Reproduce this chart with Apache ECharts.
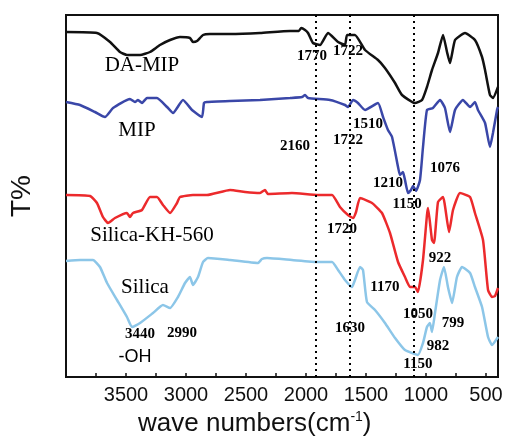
<!DOCTYPE html>
<html><head><meta charset="utf-8">
<script src="https://cdn.jsdelivr.net/npm/echarts@6/dist/echarts.min.js"></script>
<style>html,body{margin:0;padding:0;background:#fff}#c{width:505px;height:436px}</style>
</head><body><div id="c"></div>
<script>
// wavenumber (cm-1), transmittance (arbitrary offset units)
const daMip = [[4000,345],[3742,344],[3633,335],[3550,325],[3492,322],[3383,322],[3300,325],[3217,332],[3133,337],[3050,340],[2967,339],[2942,335],[2908,336],[2858,342],[2800,343],[2633,343],[2383,344],[2133,346],[2060,346],[2040,349],[2008,347],[1983,344],[1942,334],[1883,332],[1817,344],[1733,335],[1675,332],[1658,342],[1592,342],[1508,327],[1400,317],[1342,309],[1258,294],[1200,282],[1092,274],[1033,277],[992,290],[950,307],[900,324],[858,342],[825,325],[800,314],[758,337],[675,344],[592,337],[533,320],[508,307],[467,282],[442,279],[400,290]];
const mip = [[4000,275],[3883,272],[3758,265],[3675,260],[3608,269],[3467,278],[3425,275],[3400,277],[3367,274],[3325,279],[3242,279],[3158,270],[3108,264],[3025,277],[2950,267],[2867,260],[2850,274],[2825,275],[2633,276],[2383,277],[2133,279],[2033,280],[2008,282],[1983,279],[1800,277],[1675,272],[1650,270],[1608,277],[1567,274],[1508,267],[1400,274],[1358,260],[1317,247],[1283,240],[1233,210],[1217,202],[1192,205],[1175,197],[1150,184],[1125,187],[1108,191],[1083,186],[1050,197],[1025,230],[992,267],[942,269],[883,277],[842,269],[800,245],[758,267],[692,277],[633,270],[592,275],[567,267],[508,254],[467,230],[442,244],[408,267],[400,270]];
const silicaKH = [[4000,182],[3800,181],[3742,174],[3692,160],[3650,154],[3592,159],[3492,164],[3467,160],[3442,164],[3367,167],[3300,180],[3242,180],[3192,172],[3133,164],[3075,174],[3050,180],[2942,182],[2825,182],[2633,187],[2508,185],[2383,184],[2342,187],[2317,183],[2117,184],[1900,182],[1783,182],[1717,170],[1650,162],[1608,159],[1583,165],[1550,179],[1450,174],[1367,164],[1300,144],[1233,115],[1175,100],[1133,90],[1092,90],[1067,85],[1025,117],[992,162],[983,169],[950,137],[933,134],[900,175],[858,180],[808,145],[775,167],[717,184],[633,180],[592,164],[525,137],[483,87],[450,80],[425,81],[400,89]];
const silica = [[4000,116],[3883,117],[3775,117],[3717,110],[3658,94],[3575,77],[3492,60],[3450,50],[3383,54],[3275,64],[3192,72],[3133,69],[3067,80],[3008,94],[2967,100],[2942,92],[2900,100],[2858,115],[2817,119],[2633,117],[2400,114],[2367,118],[2325,119],[2117,117],[1900,115],[1783,115],[1733,107],[1675,97],[1617,90],[1592,97],[1550,110],[1525,107],[1492,75],[1425,67],[1342,54],[1258,39],[1175,27],[1067,22],[1025,34],[992,50],[967,54],[950,45],[925,64],[883,97],[850,110],[817,90],[783,74],[742,100],[700,110],[633,104],[592,90],[533,70],[483,40],[450,32],[400,40]];
const seriesNames = ['DA-MIP','MIP','Silica-KH-560','Silica'];
const seriesColors = ['#111111','#3a47a8','#ec2a2c','#8cc6e8'];
const nameLabels = [[3367,312,'DA-MIP'],[3408,247,'MIP'],[3283,142,'Silica-KH-560'],[3342,90,'Silica']];
const peakLabels = [[3383,43,'3440'],[3033,44,'2990'],[1950,321,'1770'],[1650,326,'1722'],[1483,253,'1510'],[2092,231,'2160'],[1650,237,'1722'],[842,209,'1076'],[1317,194,'1210'],[1158,173,'1150'],[1700,148,'1720'],[883,119,'922'],[1342,90,'1170'],[1067,63,'1050'],[775,54,'799'],[1633,49,'1630'],[900,31,'982'],[1067,13,'1150']];
const ohLabel = [[3425,20,'-OH']];
const dottedLines = [1917,1633,1100];
const majorTicks = [3500,3000,2500,2000,1500,1000,500];
const minorTicks = [3750,3500,3250,3000,2750,2500,2250,2000,1750,1500,1250,1000,750,500];

const chart = echarts.init(document.getElementById('c'), null, {renderer:'canvas'});
const curves = [daMip, mip, silicaKH, silica];
const series = curves.map((d,i)=>({
  type:'line', name:seriesNames[i], data:d, showSymbol:false, smooth:0.15,
  lineStyle:{color:seriesColors[i], width:2.5}, z:3,
  markLine: i===0 ? {silent:true, symbol:'none', label:{show:false},
    lineStyle:{color:'#000', type:[2,4], width:2},
    data: dottedLines.map(x=>({xAxis:x}))} : undefined
}));
function textSeries(arr, style){
  return {type:'scatter', symbolSize:0, silent:true, z:5, itemStyle:{opacity:1},
    data: arr.map(a=>({value:[a[0],a[1]], name:a[2]})),
    label:Object.assign({show:true, position:[0,0], align:'center', verticalAlign:'middle', opacity:1,
      formatter:p=>p.name, color:'#000', textBorderWidth:0, textBorderColor:'transparent'}, style)};
}
series.push(textSeries(nameLabels,{fontFamily:'Liberation Serif', fontSize:21}));
series.push(textSeries(peakLabels,{fontFamily:'Liberation Serif', fontSize:15, fontWeight:'bold'}));
series.push(textSeries(ohLabel,{fontFamily:'Liberation Sans', fontSize:18}));

chart.setOption({
  animation:false,
  grid:{left:66, right:7, top:15, bottom:59, containLabel:false, outerBoundsMode:'none', show:true, borderColor:'#111', borderWidth:2, backgroundColor:'transparent'},
  xAxis:{type:'value', inverse:true, min:400, max:4000,
    axisLine:{show:true, lineStyle:{color:'#111', width:2}},
    axisTick:{show:true, inside:true, length:4, customValues:minorTicks, lineStyle:{color:'#111', width:1.5}},
    axisLabel:{customValues:majorTicks, formatter:v=>String(v), fontFamily:'Liberation Sans', fontSize:20, color:'#111', margin:8},
    splitLine:{show:false}},
  yAxis:{type:'value', min:0, max:362, axisLine:{show:false}, axisTick:{show:false}, axisLabel:{show:false}, splitLine:{show:false},
    name:'T%', nameLocation:'middle', nameRotate:90, nameGap:30,
    nameTextStyle:{fontFamily:'Liberation Sans', fontSize:28, color:'#111'}},
  graphic:[{type:'text', left:138, top:410, style:{
    text:'wave numbers(cm{sup|-1})', fontFamily:'Liberation Sans', fontSize:26, fill:'#111',
    rich:{sup:{fontFamily:'Liberation Sans', fontSize:14, verticalAlign:'top', padding:[0,0,14,0], fill:'#111'}}}}],
  series: series
});
</script></body></html>
